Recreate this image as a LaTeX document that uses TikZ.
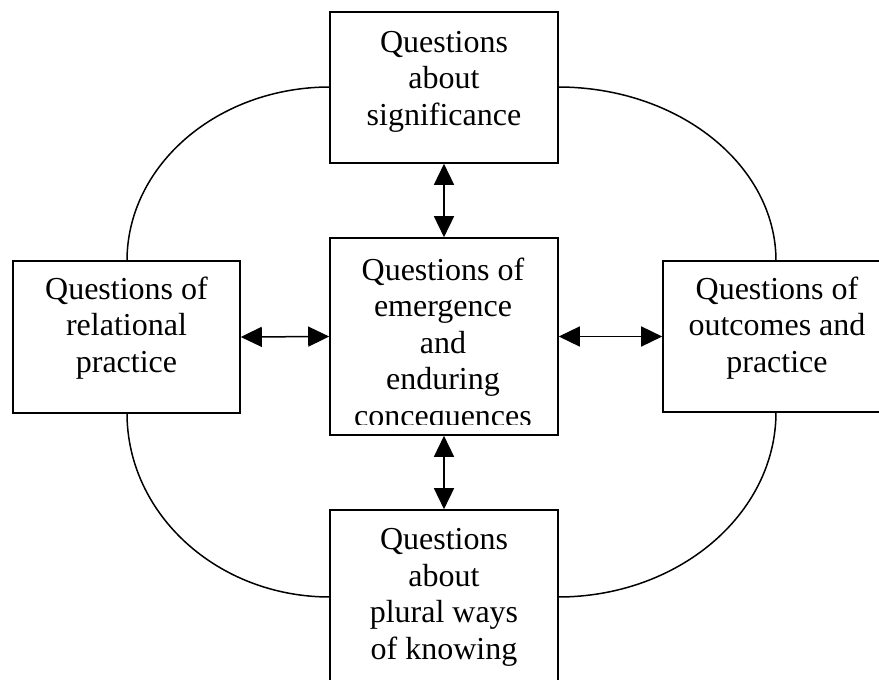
\documentclass[tikz,border=0pt]{standalone}
\usepackage{fontspec}
\setmainfont{Liberation Serif}
\usetikzlibrary{arrows.meta}
\begin{document}
\begin{tikzpicture}[x=1pt,y=-1pt,
  box/.style={draw=black, line width=1.6pt, fill=white, inner sep=0pt, rectangle},
  txt/.style={align=center, inner sep=0pt, anchor=base,
    font=\fontsize{32}{36.5}\selectfont},
  ring/.style={line width=1.5pt},
  biarrow/.style={line width=1.5pt, {Triangle[length=21pt,width=20pt]}-{Triangle[length=21pt,width=20pt]}}]
\useasboundingbox (0,0) rectangle (879,680);
\clip (0,0) rectangle (879,680);

% ring segments joining the outer boxes
\coordinate (tl) at (127,261);
\coordinate (tr) at (558,87);
\coordinate (br) at (776,412);
\coordinate (bl) at (330,597);
\draw[ring] (tl) arc[start angle=180, end angle=90, x radius=203pt, y radius=174pt];
\draw[ring] (tr) arc[start angle=90, end angle=0, x radius=218pt, y radius=174pt];
\draw[ring] (br) arc[start angle=0, end angle=-90, x radius=218pt, y radius=185pt];
\draw[ring] (bl) arc[start angle=270, end angle=180, x radius=203pt, y radius=184pt];

% boxes
\node[box, minimum width=228pt, minimum height=151pt] (top) at (444,87.5) {};
\node[box, minimum width=228pt, minimum height=197pt] (mid) at (444,336.5) {};
\node[box, minimum width=227pt, minimum height=152pt] (left) at (126.5,337) {};
\node[box, minimum width=230pt, minimum height=151pt] (right) at (778,336.5) {};
\node[box, minimum width=228pt, minimum height=200pt] (bottom) at (444,610) {};

% texts (anchored on the baseline of their last line)
\node[txt] (ttop) at (444,125) {Questions\\about\\significance};
\node[txt] (tleft) at (126.5,372) {Questions of\\relational\\practice};
\node[txt] (tright) at (777,372) {Questions of\\outcomes and\\practice};
\node[txt] (tbottom) at (444,659) {Questions\\about\\plural ways\\of knowing};
\begin{scope}
  \clip (330,238) rectangle (558,424.5);
  \node[txt] (tmid) at (443,426) {Questions of\\emergence\\and\\enduring\\concequences};
\end{scope}

% two-headed connectors
\draw[biarrow] (top.south) -- (mid.north);
\draw[biarrow] (mid.south) -- (bottom.north);
\draw[biarrow] (left.east) -- (mid.west);
\draw[biarrow] (mid.east) -- (right.west);
\end{tikzpicture}
\end{document}
